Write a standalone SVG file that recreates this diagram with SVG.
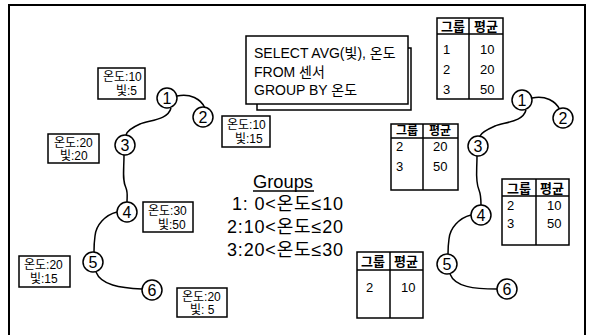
<svg xmlns="http://www.w3.org/2000/svg" width="592" height="335" viewBox="0 0 592 335">
<style>
text{font-family:"Liberation Sans","Noto Sans CJK KR",sans-serif;fill:#000}
.frame{fill:#fff;stroke:#000;stroke-width:2}
.box{fill:#fff;stroke:#000;stroke-width:1.5}
.edge{fill:none;stroke:#000;stroke-width:1.5}
.node circle{fill:#fff;stroke:#000;stroke-width:1.5}
.node text{font-size:16px;text-anchor:middle}
.lbl{font-size:12px}
.sql{font-size:14px}
.grp{font-size:18px}
.tb{font-size:13px}
.th{font-size:13px;font-weight:bold;text-anchor:middle}
.tl{fill:none;stroke:#000;stroke-width:1.5}
</style>
<rect class="frame" x="9" y="5" width="576" height="340"/>

<!-- SQL query box -->
<g id="sql">
<rect class="box" x="257" y="48" width="154" height="62"/>
<rect class="box" x="246" y="36" width="162" height="68"/>
<text class="sql" x="254" y="58">SELECT AVG(빛), 온도</text>
<text class="sql" x="254" y="77">FROM 센서</text>
<text class="sql" x="254" y="95">GROUP BY 온도</text>
</g>

<!-- Groups legend -->
<g id="groups">
<text class="grp" x="253" y="188" textLength="60" lengthAdjust="spacingAndGlyphs">Groups</text>
<line x1="253" y1="191" x2="314" y2="191" stroke="#000" stroke-width="1.3"/>
<text class="grp" x="232" y="210" textLength="111" lengthAdjust="spacing">1: 0&lt;온도≤10</text>
<text class="grp" x="227" y="233" textLength="116" lengthAdjust="spacing">2:10&lt;온도≤20</text>
<text class="grp" x="227" y="256" textLength="116" lengthAdjust="spacing">3:20&lt;온도≤30</text>
</g>

<!-- connectors -->
<g id="connectors">
<path class="edge" d="M177,96 C190,93 201,99 205,108"/>
<path class="edge" d="M171,108 C168,120 150,120 140,124 C131,128 127,131 126,135"/>
<path class="edge" d="M124,155 C124,170 122,180 126,188 C128,193 127,197 127,202"/>
<path class="edge" d="M117,212 C105,215 96,225 95,236 C94,243 94,248 94,252"/>
<path class="edge" d="M96,272 C101,285 120,288 142,289"/>

<path class="edge" d="M532,98 C545,95 556,101 560,110"/>
<path class="edge" d="M526,110 C523,122 505,122 495,126 C486,130 481,133 480,136"/>
<path class="edge" d="M477,156 C477,171 475,181 479,190 C481,195 481,200 481,205"/>
<path class="edge" d="M471,215 C459,218 450,228 449,239 C448,246 448,250 448,254"/>
<path class="edge" d="M450,274 C455,287 474,289 497,289"/>
</g>

<!-- left graph nodes -->
<g id="L1" class="node"><circle cx="167" cy="98" r="10"/><text x="167" y="104">1</text></g>
<g id="L2" class="node"><circle cx="203" cy="117" r="10"/><text x="203" y="123">2</text></g>
<g id="L3" class="node"><circle cx="125" cy="145" r="10"/><text x="125" y="151">3</text></g>
<g id="L4" class="node"><circle cx="127" cy="212" r="10"/><text x="127" y="218">4</text></g>
<g id="L5" class="node"><circle cx="93" cy="262" r="10"/><text x="93" y="268">5</text></g>
<g id="L6" class="node"><circle cx="152" cy="290" r="10"/><text x="152" y="296">6</text></g>

<!-- left labels -->
<g id="lab1"><rect class="box" x="98" y="68" width="47" height="31"/><text class="lbl" x="103" y="81">온도:10</text><text class="lbl" x="116" y="95">빛:5</text></g>
<g id="lab2"><rect class="box" x="222" y="116" width="48" height="31"/><text class="lbl" x="227" y="129">온도:10</text><text class="lbl" x="235" y="143">빛:15</text></g>
<g id="lab3"><rect class="box" x="48" y="134" width="51" height="29"/><text class="lbl" x="54" y="147">온도:20</text><text class="lbl" x="60" y="160">빛:20</text></g>
<g id="lab4"><rect class="box" x="143" y="202" width="50" height="30"/><text class="lbl" x="148" y="215">온도:30</text><text class="lbl" x="158" y="229">빛:50</text></g>
<g id="lab5"><rect class="box" x="19" y="256" width="51" height="31"/><text class="lbl" x="24" y="269">온도:20</text><text class="lbl" x="30" y="283">빛:15</text></g>
<g id="lab6"><rect class="box" x="177" y="288" width="50" height="29"/><text class="lbl" x="182" y="301">온도:20</text><text class="lbl" x="190" y="314">빛: 5</text></g>

<!-- right graph nodes -->
<g id="R1" class="node"><circle cx="522" cy="100" r="10"/><text x="522" y="106">1</text></g>
<g id="R2" class="node"><circle cx="563" cy="118" r="10"/><text x="563" y="124">2</text></g>
<g id="R3" class="node"><circle cx="478" cy="146" r="10"/><text x="478" y="152">3</text></g>
<g id="R4" class="node"><circle cx="481" cy="215" r="10"/><text x="481" y="221">4</text></g>
<g id="R5" class="node"><circle cx="447" cy="264" r="10"/><text x="447" y="270">5</text></g>
<g id="R6" class="node"><circle cx="507" cy="289" r="10"/><text x="507" y="295">6</text></g>

<!-- tables -->
<g id="table1">
<rect class="box" x="437" y="18" width="66" height="81"/>
<line class="tl" x1="437" y1="34" x2="503" y2="34"/>
<line class="tl" x1="469" y1="18" x2="469" y2="99"/>
<text class="th" x="453" y="31">그룹</text><text class="th" x="486" y="31">평균</text>
<text class="tb" x="443" y="54">1</text><text class="tb" x="480" y="54">10</text>
<text class="tb" x="443" y="74">2</text><text class="tb" x="480" y="74">20</text>
<text class="tb" x="443" y="94">3</text><text class="tb" x="480" y="94">50</text>
</g>
<g id="table2">
<rect class="box" x="391" y="124" width="67" height="66"/>
<line class="tl" x1="391" y1="138" x2="458" y2="138"/>
<line class="tl" x1="423" y1="124" x2="423" y2="190"/>
<text class="th" x="407" y="135" style="font-size:12px">그룹</text><text class="th" x="440" y="135" style="font-size:12px">평균</text>
<text class="tb" x="396" y="151">2</text><text class="tb" x="433" y="151">20</text>
<text class="tb" x="396" y="171">3</text><text class="tb" x="433" y="171">50</text>
</g>
<g id="table3">
<rect class="box" x="502" y="179" width="67" height="66"/>
<line class="tl" x1="502" y1="196" x2="569" y2="196"/>
<line class="tl" x1="536" y1="179" x2="536" y2="245"/>
<text class="th" x="519" y="193">그룹</text><text class="th" x="552" y="193">평균</text>
<text class="tb" x="507" y="210">2</text><text class="tb" x="547" y="210">10</text>
<text class="tb" x="507" y="228">3</text><text class="tb" x="547" y="228">50</text>
</g>
<g id="table4">
<rect class="box" x="357" y="252" width="66" height="66"/>
<line class="tl" x1="357" y1="270" x2="423" y2="270"/>
<line class="tl" x1="390" y1="252" x2="390" y2="318"/>
<text class="th" x="373" y="266">그룹</text><text class="th" x="406" y="266">평균</text>
<text class="tb" x="366" y="292">2</text><text class="tb" x="401" y="292">10</text>
</g>
</svg>
